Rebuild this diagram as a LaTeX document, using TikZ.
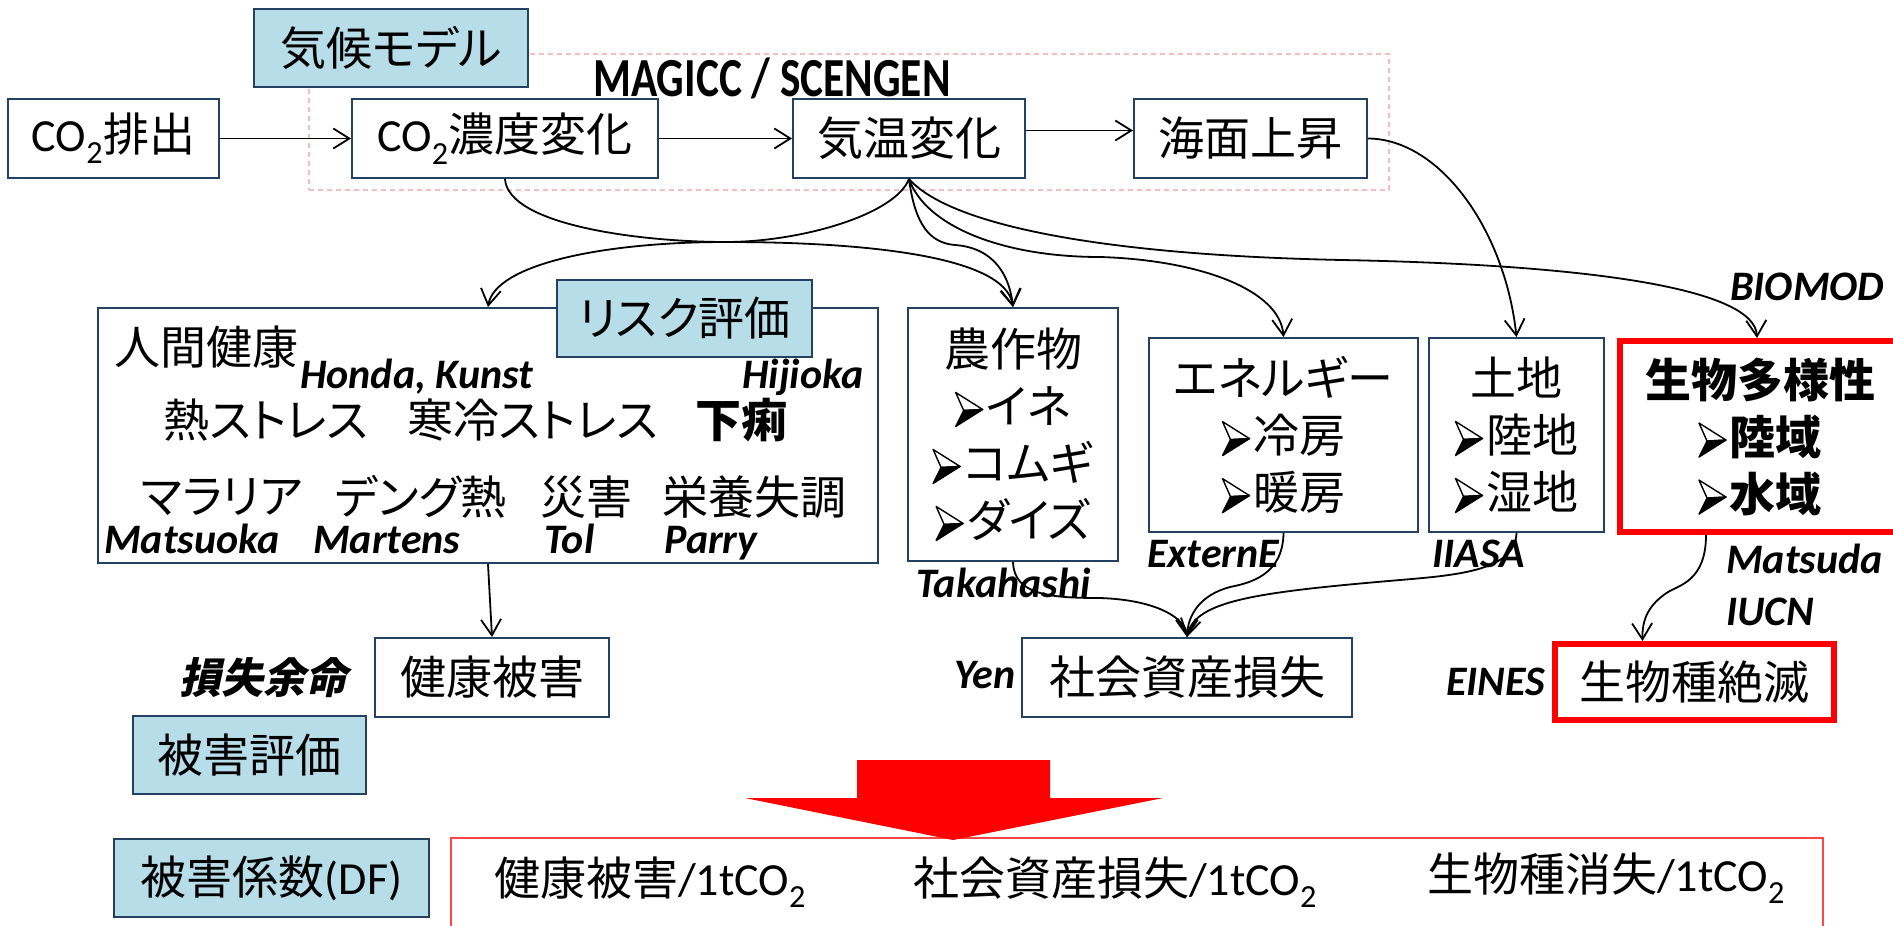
\documentclass[tikz,border=0pt]{standalone}
\usepackage{fontspec}
\usepackage{graphicx}
\setmainfont{Carlito}
\newfontfamily\jp[RawFeature=+palt]{Noto Sans CJK JP}
\newfontfamily\jpsl[FakeSlant=0.22]{Noto Sans CJK JP}
\usetikzlibrary{arrows.meta}
\definecolor{navy}{RGB}{36,64,98}
\definecolor{lblue}{RGB}{183,222,232}
\definecolor{dpink}{RGB}{240,190,190}
\definecolor{bred}{RGB}{255,0,0}
\definecolor{lred}{RGB}{255,70,70}
\newcommand{\jfs}{\fontsize{46}{57}\selectfont}
\newcommand{\bul}{\tikz[x=1pt,y=1pt,baseline=3pt,line width=1.4pt,line join=round]{\filldraw[fill=white,draw=black] (0,34)--(27,17)--(8,16)--cycle; \filldraw[fill=black,draw=black] (0,0)--(27,17)--(8,16)--cycle;}\hspace{3pt}}
\newcommand{\cotwo}{{\rmfamily CO\textsubscript{2}}}
\tikzset{
  box/.style={draw=navy, line width=2pt, fill=white, inner sep=0pt, font=\jfs\jp, align=center},
  lbl/.style={draw=navy, line width=2.5pt, fill=lblue, inner sep=0pt, font=\jfs\jp},
  rbox/.style={draw=bred, line width=6pt, fill=white, inner sep=0pt, font=\jfs\jp\bfseries, align=center},
  txt/.style={inner sep=0pt, font=\jfs\jp},
  it/.style={inner sep=0pt, anchor=base west, font=\fontsize{42}{50}\selectfont\bfseries\itshape},
  arr/.style={line width=1.8pt, -{Straight Barb[length=16pt,width=20pt]}},
}
\begin{document}
\begin{tikzpicture}[x=1pt,y=-1pt]
\useasboundingbox (0,0) rectangle (1893,926);
\clip (0,0) rectangle (1893,926);
% climate model region
\node[draw=dpink, line width=1.3pt, dash pattern=on 5pt off 4pt, minimum width=1080pt, minimum height=136pt, inner sep=0pt] (model) at (849,122) {};
\node[lbl, minimum width=274pt, minimum height=78pt] (kikou) at (391,48) {気候モデル};
\node[inner sep=0pt, font=\fontsize{51}{51}\selectfont\bfseries] (magicc) at (772,78) {\scalebox{0.85}[1.08]{MAGICC / SCENGEN}};
% top row
\node[box, minimum width=211pt, minimum height=79pt] (co2e) at (113.5,138.5) {\cotwo 排出};
\node[box, minimum width=306pt, minimum height=79pt] (co2c) at (505,138.5) {\cotwo 濃度変化};
\node[box, minimum width=232pt, minimum height=79pt] (temp) at (909,138.5) {気温変化};
\node[box, minimum width=233pt, minimum height=79pt] (sea) at (1250.5,138.5) {海面上昇};
% risk assessment
\node[box, minimum width=780pt, minimum height=255pt] (hh) at (488,435.5) {};
\node[lbl, minimum width=255pt, minimum height=77pt] (risk) at (684.5,318.5) {リスク評価};
\node[txt] (jinkan) at (206,347) {人間健康};
\node[txt] (netsu) at (266,420) {熱ストレス};
\node[txt] (kanrei) at (532.5,420) {寒冷ストレス};
\node[txt, font=\jfs\jp\bfseries] (geri) at (741,420) {下痢};
\node[txt] (malaria) at (222,497) {マラリア};
\node[txt] (dengue) at (421,497) {デング熱};
\node[txt] (saigai) at (586.5,497) {災害};
\node[txt] (eiyou) at (754.5,497) {栄養失調};
\node[it] (honda) at (300,388) {Honda, Kunst};
\node[it] (hijioka) at (742,388) {Hijioka};
\node[it] (matsuoka) at (104,553) {Matsuoka};
\node[it] (martens) at (313,553) {Martens};
\node[it] (tol) at (544,553) {Tol};
\node[it] (parry) at (664,553) {Parry};
% sector boxes
\node[box, minimum width=210pt, minimum height=253pt] (agri) at (1013,434.5) {農作物\\\bul イネ\\\bul コムギ\\\bul ダイズ};
\node[box, minimum width=269pt, minimum height=194pt] (energy) at (1283.5,435) {エネルギー\\\bul 冷房\\\bul 暖房};
\node[box, minimum width=175pt, minimum height=194pt] (land) at (1516.5,435) {土地\\\bul 陸地\\\bul 湿地};
\node[rbox, minimum width=280pt, minimum height=191pt] (bio) at (1760,436.5) {生物多様性\\\bul 陸域\\\bul 水域};
\node[it] (biomod) at (1730,300) {BIOMOD};
\node[it] (externe) at (1147,567) {ExternE};
\node[it] (iiasa) at (1432,567) {IIASA};
\node[it] (matsuda) at (1726,573) {Matsuda};
\node[it] (iucn) at (1726,625) {IUCN};
\node[it] (takahashi) at (916,597) {Takahashi};
% damage boxes
\node[box, minimum width=234pt, minimum height=79pt] (health) at (492,677.5) {健康被害};
\node[box, minimum width=330pt, minimum height=79pt] (social) at (1187,677.5) {社会資産損失};
\node[rbox, font=\jfs\jp, minimum width=279pt, minimum height=76pt] (extinct) at (1694.5,682) {生物種絶滅};
\node[txt, font=\fontsize{42}{50}\selectfont\jpsl\bfseries] (sonshitsu) at (263,678) {損失余命};
\node[it] (yen) at (954,688) {Yen};
\node[it] (eines) at (1446,695) {EINES};
\node[lbl, minimum width=233pt, minimum height=78pt] (damage) at (249.5,755) {被害評価};
% damage factor
\node[lbl, minimum width=315pt, minimum height=78pt] (dflbl) at (271.5,878) {被害係数{\rmfamily (DF)}};
\node[draw=lred, line width=1.5pt, minimum width=1372pt, minimum height=120pt, inner sep=0pt] (dfbox) at (1137,898) {};
\fill[bred] (857,760) -- (1050,760) -- (1050,798) -- (1163,798) -- (953,840) -- (745,798) -- (857,798) -- cycle;
\node[txt] (df1) at (650,882) {健康被害{\rmfamily /1tCO\textsubscript{2}}};
\node[txt] (df2) at (1115,882) {社会資産損失{\rmfamily /1tCO\textsubscript{2}}};
\node[txt] (df3) at (1606,878) {生物種消失{\rmfamily /1tCO\textsubscript{2}}};
% connectors
\draw[arr] (co2e.east) -- (co2c.west);
\draw[arr] (co2c.east) -- (temp.west);
\draw[arr] ([yshift=8pt]temp.east) -- ([yshift=8pt]sea.west);
\draw[arr] (sea.east) .. controls (1440,139) and (1505,230) .. (land.north);
\draw[arr] (co2c.south) .. controls (508,225) and (640,242) .. (726,242) .. controls (860,242) and (1005,255) .. (agri.north);
\draw[arr] (temp.south) .. controls (895,215) and (800,242) .. (726,242) .. controls (600,242) and (495,265) .. (hh.north);
\draw[arr] (temp.south) .. controls (915,225) and (930,243) .. (955,245) .. controls (985,247) and (1008,265) .. (agri.north);
\draw[arr] (temp.south) .. controls (925,225) and (1000,257) .. (1100,257) .. controls (1200,260) and (1280,290) .. (energy.north);
\draw[arr] (temp.south) .. controls (950,225) and (1100,255) .. (1342,260) .. controls (1600,265) and (1755,290) .. ([xshift=-3pt]bio.north);
\draw[arr] (hh.south) -- (health.north);
\draw[arr] (agri.south) .. controls (1014,595) and (1050,598) .. (1100,598) .. controls (1160,600) and (1186,620) .. (social.north);
\draw[arr] (energy.south) .. controls (1283,575) and (1250,583) .. (1230,587) .. controls (1200,595) and (1188,615) .. (social.north);
\draw[arr] (land.south) .. controls (1515,570) and (1460,575) .. (1400,580) .. controls (1260,592) and (1195,600) .. (social.north);
\draw[arr] ([xshift=-54pt]bio.south) .. controls (1706,580) and (1680,585) .. (1668,592) .. controls (1648,605) and (1642,620) .. ([xshift=-52pt]extinct.north);
\end{tikzpicture}
\end{document}
